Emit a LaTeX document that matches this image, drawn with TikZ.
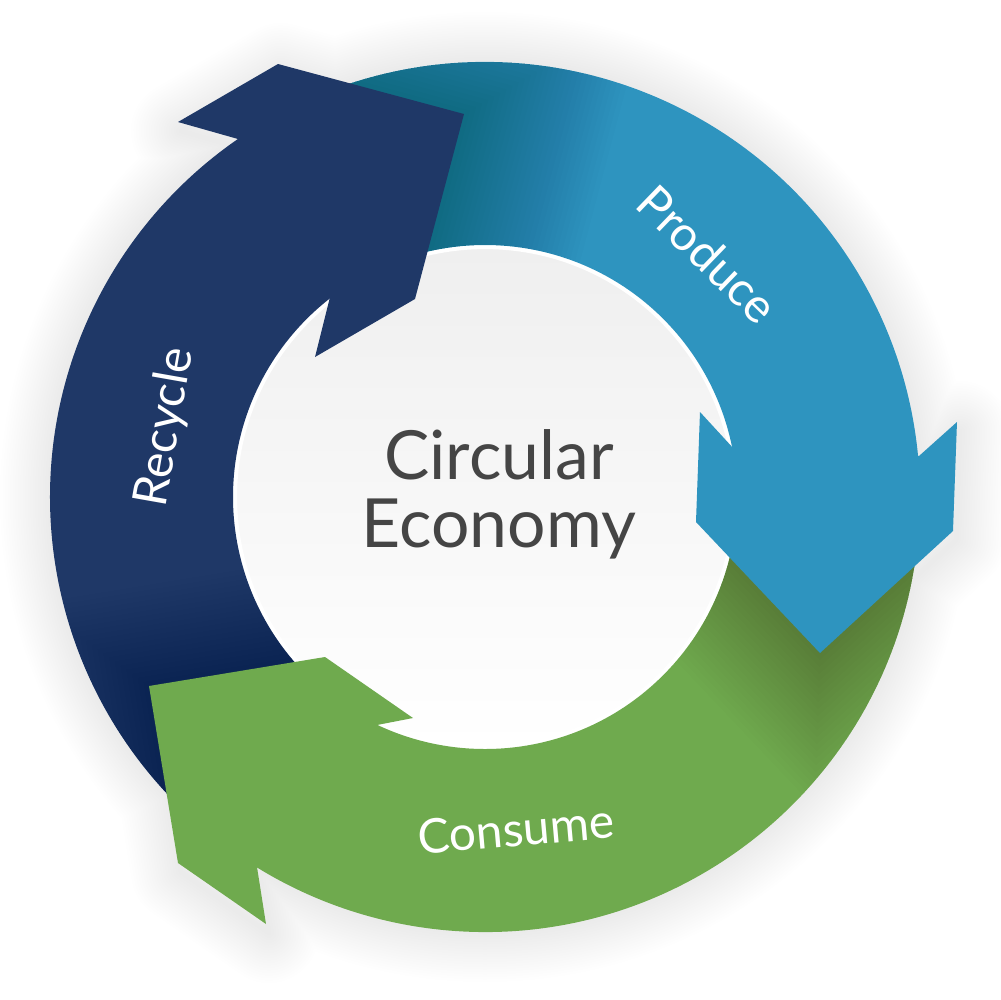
\documentclass[tikz,border=0pt]{standalone}
\usepackage{fontspec}
\setmainfont{Lato}
\definecolor{recnavy}{HTML}{1F3867}
\definecolor{prodblue}{HTML}{2E94BF}
\definecolor{congreen}{HTML}{6FAA4E}
\definecolor{titlegray}{HTML}{454545}
\definecolor{discgray}{HTML}{EFEFEF}
\tikzset{
  % ring pieces, image pixels (y down)
  recyclebody/.style={insert path={([shift={(135:435)}]O) arc[start angle=135, end angle=248, radius=435]
      -- ([shift={(248:252)}]O) arc[start angle=248, end angle=135, radius=252] -- cycle}},
  producebody/.style={insert path={([shift={(248:435)}]O) arc[start angle=248, end angle=368, radius=435]
      -- ([shift={(368:252)}]O) arc[start angle=368, end angle=248, radius=252] -- cycle}},
  consumebody/.style={insert path={([shift={(8:435)}]O) arc[start angle=8, end angle=135, radius=435]
      -- ([shift={(135:252)}]O) arc[start angle=135, end angle=8, radius=252] -- cycle}},
  % arrow heads
  recyclehead/.style={insert path={(238,139) -- (178,122) -- (278,64) -- (464,114)
      -- (415,299) -- (315,357) -- (330,297) -- cycle}},
  producehead/.style={insert path={(734,449) -- (700,412) -- (696,522) -- (820,653)
      -- (953,531) -- (957,422) -- (919,456) -- cycle}},
  consumehead/.style={insert path={(377,725) -- (413,718) -- (325,657) -- (149,686)
      -- (178,863) -- (266,924) -- (257,867) -- cycle}},
  steplabel/.style={text=white, font=\fontsize{13.6}{16}\selectfont}
}

\begin{document}
\begin{tikzpicture}[x=0.1mm, y=-0.1mm]
    \useasboundingbox (0,0) rectangle (1000,1000);
    \coordinate (O) at (485,497);

    % soft glow round the ring
    \foreach \w in {1,...,20}
        \draw[black, opacity=0.0038, line width=\w*0.5mm, line join=round, shift={(3,9)},
              recyclehead, producehead, consumehead] (O) circle[radius=435];

    % centre disc
    \shadedraw[top color=discgray, bottom color=white, draw=white, line width=1.2pt]
        (O) circle[radius=250];

    % ring
    \fill[recnavy, recyclebody];
    \fill[prodblue, producebody];
    \fill[congreen, consumebody];

    % shadows of the heads
    \begin{scope}
        \clip[producebody];
        \foreach \w in {1,...,30}
            \draw[black, opacity=0.0072, line width=\w mm, recyclehead];
    \end{scope}
    \begin{scope}
        \clip[consumebody];
        \foreach \w in {1,...,22}
            \draw[black, opacity=0.0065, line width=\w mm, producehead];
    \end{scope}
    \begin{scope}
        \clip[recyclebody];
        \foreach \w in {1,...,20}
            \draw[black, opacity=0.0048, line width=\w mm, consumehead];
    \end{scope}

    % heads
    \fill[prodblue, producehead];
    \fill[congreen, consumehead];
    \fill[recnavy, recyclehead];

    % texts
    \node[text=titlegray, align=center, font=\fontsize{19.3}{19.4}\selectfont]
        (title) at (499,494) {Circular\\Economy};
    \node[steplabel, rotate=-44] (produce) at (708,254) {Produce};
    \node[steplabel, rotate=5] (consume) at (516,829) {Consume};
    \node[steplabel, rotate=80] (recycle) at (166,427) {Recycle};
\end{tikzpicture}
\end{document}
